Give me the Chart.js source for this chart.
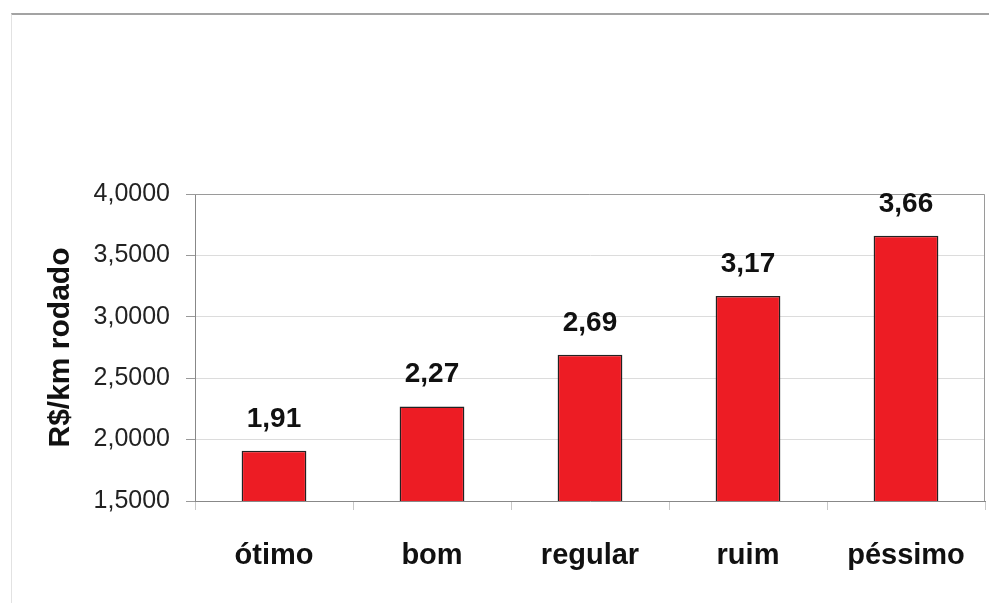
<!DOCTYPE html>
<html lang="pt">
<head>
    <meta charset="UTF-8">
    <title>R$/km rodado</title>
    <script src="https://cdn.jsdelivr.net/npm/chart.js"></script>
    <style>
        html, body { margin: 0; padding: 0; background: #fff; }
        #wrap { position: relative; width: 989px; height: 603px; }
        #frame { position: absolute; left: 11px; top: 13px; right: 0; bottom: 0;
                 border-top: 2px solid #a3a3a3; border-left: 1px solid #e2e2e2; }
        canvas { position: absolute; left: 0; top: 0; }
    </style>
</head>
<body>
    <div id="wrap">
        <div id="frame"></div>
        <canvas id="chart" width="989" height="603"></canvas>
    </div>

    <script>
        const categories = ['ótimo', 'bom', 'regular', 'ruim', 'péssimo'];
        const values = [1.91, 2.27, 2.69, 3.17, 3.66];
        const yTicks = [1.5, 2.0, 2.5, 3.0, 3.5, 4.0];
        const axisTitle = 'R$/km rodado';

        const fmt = (v, d) => v.toFixed(d).replace('.', ',');

        // draws the value above each bar and the plot area border
        const labelsPlugin = {
            id: 'labelsPlugin',
            afterDatasetsDraw(chart) {
                const ctx = chart.ctx;
                const area = chart.chartArea;
                ctx.save();
                ctx.strokeStyle = '#9a9a9a';
                ctx.lineWidth = 1;
                ctx.beginPath();
                ctx.moveTo(area.left, area.top + 0.5);
                ctx.lineTo(area.right - 0.5, area.top + 0.5);
                ctx.lineTo(area.right - 0.5, area.bottom);
                ctx.stroke();

                ctx.font = 'bold 28px "Liberation Sans", Arial, sans-serif';
                ctx.fillStyle = '#111';
                ctx.textAlign = 'center';
                ctx.textBaseline = 'alphabetic';
                chart.getDatasetMeta(0).data.forEach((bar, i) => {
                    ctx.fillText(fmt(values[i], 2), bar.x, bar.y - 24);
                });
                ctx.restore();
            }
        };

        new Chart(document.getElementById('chart'), {
            type: 'bar',
            data: {
                labels: categories,
                datasets: [{
                    data: values,
                    backgroundColor: '#ed1c24',
                    borderColor: '#222',
                    borderWidth: 1.5,
                    borderSkipped: false,
                    categoryPercentage: 1,
                    barPercentage: 0.41
                }]
            },
            plugins: [labelsPlugin],
            options: {
                responsive: false,
                animation: false,
                layout: { padding: { left: 0, right: 4, top: 194, bottom: 0 } },
                plugins: { legend: { display: false }, tooltip: { enabled: false } },
                scales: {
                    x: {
                        grid: { drawOnChartArea: false, drawTicks: true, tickLength: 9, color: '#c8c8c8' },
                        border: { color: '#888', width: 1 },
                        ticks: {
                            color: '#111',
                            padding: 29,
                            maxRotation: 0,
                            font: { family: '"Liberation Sans", Arial, sans-serif', size: 29, weight: 'bold' }
                        },
                        afterFit(scale) { scale.height = 102; scale.paddingRight = 0; }
                    },
                    y: {
                        min: 1.5,
                        max: 4,
                        afterBuildTicks(scale) { scale.ticks = yTicks.map(v => ({ value: v })); },
                        grid: { color: '#dcdcdc', tickColor: '#999', tickLength: 9 },
                        border: { color: '#888', width: 1 },
                        ticks: {
                            color: '#222',
                            padding: 16,
                            font: { family: '"Liberation Sans", Arial, sans-serif', size: 25 },
                            callback: v => fmt(v, 4)
                        },
                        title: {
                            display: true,
                            text: axisTitle,
                            color: '#111',
                            padding: { top: 43, bottom: 0 },
                            font: { family: '"Liberation Sans", Arial, sans-serif', size: 30, weight: 'bold' }
                        },
                        afterFit(scale) { scale.width = 195; }
                    }
                }
            }
        });
    </script>
</body>
</html>
